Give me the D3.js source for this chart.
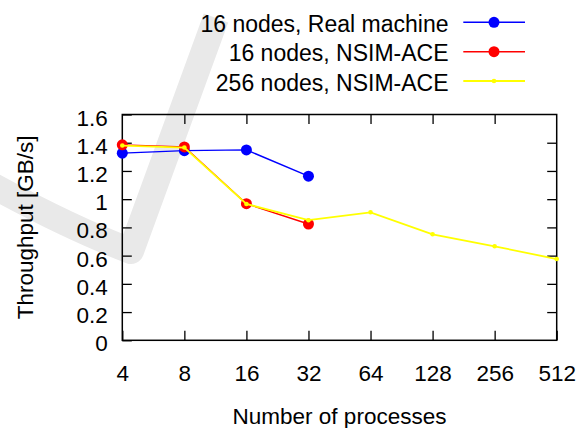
<!DOCTYPE html>
<html><head><meta charset="utf-8">
<script src="https://cdn.jsdelivr.net/npm/d3@7"></script>
<style>html,body{margin:0;padding:0;background:#fff;} svg{display:block}</style>
</head><body><svg id="c" width="581" height="428"></svg>
<script>
const processes = [4, 8, 16, 32, 64, 128, 256, 512];
const xTickLabels = ["4", "8", "16", "32", "64", "128", "256", "512"];
const yTicks = [0, 0.2, 0.4, 0.6, 0.8, 1, 1.2, 1.4, 1.6];
const yTickLabels = ["0", "0.2", "0.4", "0.6", "0.8", "1", "1.2", "1.4", "1.6"];
const realMachine16 = [1.326, 1.344, 1.349, 1.163];
const nsim16 = [1.385, 1.370, 0.968, 0.824];
const nsim256 = [1.380, 1.366, 0.966, 0.851, 0.907, 0.751, 0.666, 0.576];
const seriesNames = ["16 nodes, Real machine", "16 nodes, NSIM-ACE", "256 nodes, NSIM-ACE"];
const seriesColors = ["#0000ff", "#ff0000", "#ffff00"];
const xTitle = "Number of processes";
const yTitle = "Throughput [GB/s]";

const svg = d3.select("#c");
const font = "'Liberation Sans', Arial, Helvetica, sans-serif";
const L = 122.3, R = 556.7, T = 114.5, B = 340.3;

// faint background swoosh (watermark)
svg.append("path")
  .attr("d", "M -12,183 Q 70,228 131,251 L 216,18")
  .attr("fill", "none").attr("stroke", "#e9e9e9").attr("stroke-width", 26)
  .attr("stroke-linejoin", "round");

const x = d3.scaleLog().base(2).domain([4, 512]).range([L, R]);
const y = d3.scaleLinear().domain([0, 1.6]).range([B, T]);

const tick = 9.5;
function styleAxis(g) {
  g.select(".domain").remove();
  g.selectAll(".tick line").attr("stroke", "#000").attr("stroke-width", 1.3);
  g.selectAll("text").style("font-family", font).style("font-size", "22.5px").attr("fill", "#000");
}

// left axis
svg.append("g").attr("transform", `translate(${L},0)`)
  .call(d3.axisLeft(y).tickValues(yTicks).tickSize(-tick).tickPadding(14.5)
    .tickFormat((d, i) => yTickLabels[i]))
  .call(styleAxis)
  .call(g => g.selectAll("text").attr("dy", null).attr("y", 10.5));
// right axis (ticks only)
svg.append("g").attr("transform", `translate(${R},0)`)
  .call(d3.axisRight(y).tickValues(yTicks.slice(1, -1)).tickSize(-tick).tickFormat(""))
  .call(styleAxis);
// bottom axis
svg.append("g").attr("transform", `translate(0,${B})`)
  .call(d3.axisBottom(x).tickValues(processes).tickSize(-tick)
    .tickFormat((d, i) => xTickLabels[i]))
  .call(styleAxis)
  .call(g => g.selectAll("text").attr("dy", null).attr("y", 41.2));
// top axis (ticks only)
svg.append("g").attr("transform", `translate(0,${T})`)
  .call(d3.axisTop(x).tickValues(processes.slice(1, -1)).tickSize(-tick).tickFormat(""))
  .call(styleAxis);

// frame
svg.append("rect").attr("x", L).attr("y", T).attr("width", R - L).attr("height", B - T)
  .attr("fill", "none").attr("stroke", "#000").attr("stroke-width", 1.5);

// axis titles
svg.append("text").attr("x", (L + R) / 2).attr("y", 424).attr("text-anchor", "middle")
  .style("font-family", font).style("font-size", "22.5px").text(xTitle);
svg.append("text").attr("transform", `translate(33,${(T + B) / 2}) rotate(-90)`)
  .attr("text-anchor", "middle")
  .style("font-family", font).style("font-size", "22.5px").text(yTitle);

// series
const series = [
  { name: seriesNames[0], color: seriesColors[0], vals: realMachine16, r: 5.5, w: 1.4 },
  { name: seriesNames[1], color: seriesColors[1], vals: nsim16, r: 5.5, w: 1.4 },
  { name: seriesNames[2], color: seriesColors[2], vals: nsim256, r: 2.3, w: 1.8 }
];
const line = d3.line().x(d => x(d[0])).y(d => y(d[1]));
series.forEach(s => {
  const pts = s.vals.map((v, i) => [processes[i], v]);
  svg.append("path").attr("d", line(pts)).attr("fill", "none")
    .attr("stroke", s.color).attr("stroke-width", s.w);
  svg.append("g").selectAll("circle").data(pts).join("circle")
    .attr("cx", d => x(d[0])).attr("cy", d => y(d[1])).attr("r", s.r).attr("fill", s.color);
});

// legend
const legRows = [22.3, 51.7, 81];
series.forEach((s, i) => {
  const ly = legRows[i];
  svg.append("text").attr("x", 448.5).attr("y", ly + 9.6).attr("text-anchor", "end")
    .style("font-family", font).style("font-size", "23px").text(s.name);
  svg.append("line").attr("x1", 463.3).attr("x2", 525).attr("y1", ly).attr("y2", ly)
    .attr("stroke", s.color).attr("stroke-width", s.w);
  svg.append("circle").attr("cx", 494).attr("cy", ly).attr("r", s.r).attr("fill", s.color);
});
</script></body></html>
